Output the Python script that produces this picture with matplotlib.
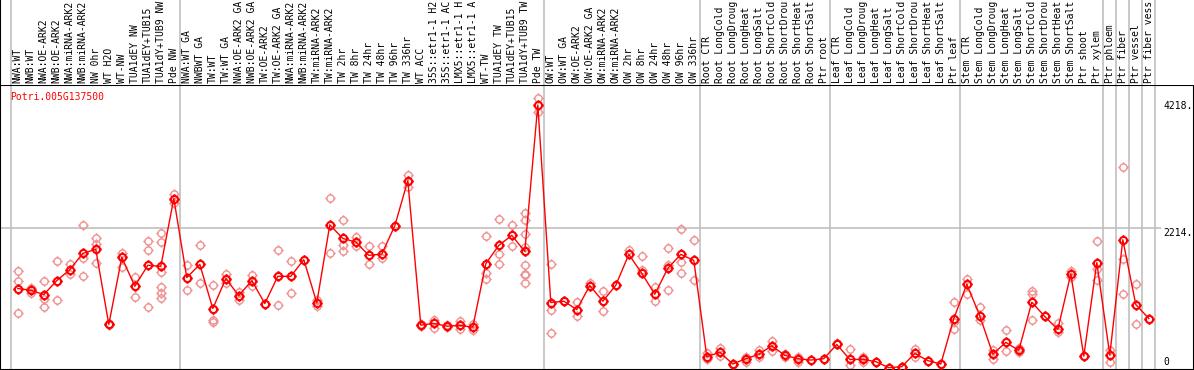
import matplotlib
matplotlib.use('Agg')
import matplotlib.pyplot as plt
from matplotlib.path import Path

gene = "Potri.005G137500"

# labels as they show in the original (long ones are cut at 14 characters)
samples = [
    "NWA:WT", "NWB:WT", "NWA:OE-ARK2", "NWB:OE-ARK2", "NWA:miRNA-ARK2", "NWB:miRNA-ARK2",
    "NW 0hr", "WT H2O", "WT-NW", "TUA1dEY NW", "TUA1dEY+TUB15", "TUA1dY+TUB9 NW", "Pde NW",
    "NWA:WT GA", "NWBWT GA", "TW:WT", "TW:WT GA", "NWA:OE-ARK2 GA", "NWB:OE-ARK2 GA",
    "TW:OE-ARK2", "TW:OE-ARK2 GA", "NWA:miRNA-ARK2", "NWB:miRNA-ARK2", "TW:miRNA-ARK2",
    "TW:miRNA-ARK2", "TW 2hr", "TW 8hr", "TW 24hr", "TW 48hr", "TW 96hr", "TW 336hr",
    "WT ACC", "35S::etr1-1 H2", "35S::etr1-1 AC", "LMX5::etr1-1 H", "LMX5::etr1-1 A",
    "WT-TW", "TUA1dEY TW", "TUA1dEY+TUB15", "TUA1dY+TUB9 TW", "Pde TW",
    "OW:WT", "OW:WT GA", "OW:OE-ARK2", "OW:OE-ARK2 GA", "OW:miRNA-ARK2", "OW:miRNA-ARK2",
    "OW 2hr", "OW 8hr", "OW 24hr", "OW 48hr", "OW 96hr", "OW 336hr",
    "Root CTR", "Root LongCold", "Root LongDroug", "Root LongHeat", "Root LongSalt",
    "Root ShortCold", "Root ShortDrou", "Root ShortHeat", "Root ShortSalt", "Ptr root",
    "Leaf CTR", "Leaf LongCold", "Leaf LongDroug", "Leaf LongHeat", "Leaf LongSalt",
    "Leaf ShortCold", "Leaf ShortDrou", "Leaf ShortHeat", "Leaf ShortSalt", "Ptr leaf",
    "Stem CTR", "Stem LongCold", "Stem LongDroug", "Stem LongHeat", "Stem LongSalt",
    "Stem ShortCold", "Stem ShortDrou", "Stem ShortHeat", "Stem ShortSalt", "Ptr shoot",
    "Ptr xylem", "Ptr phloem", "Ptr fiber", "Ptr vessel", "Ptr fiber vess",
]

means = [
    1257, 1230, 1162, 1383, 1556, 1814, 1877, 689, 1751, 1293,
    1625, 1609, 2681, 1430, 1640, 941, 1414, 1146, 1383, 1020,
    1451, 1451, 1714, 1030, 2266, 2050, 1993, 1782, 1803, 2251,
    2965, 678, 705, 662, 673, 647, 1651, 1940, 2098, 1845,
    4161, 1036, 1057, 925, 1305, 1057, 1309, 1798, 1498, 1167,
    1577, 1798, 1703, 179, 247, 63, 147, 216, 352, 200,
    147, 126, 147, 373, 136, 136, 100, 5, 21, 231,
    116, 63, 783, 1325, 825, 221, 405, 279, 1041, 815,
    610, 1488, 189, 1667, 205, 2030, 1004, 783,
]

replicates = [
    [1530, 1372, 878], [1267, 1194], [1383, 1099, 973], [1699, 1083], [1646, 1488],
    [2266, 1740, 1451], [2050, 1966, 1667], [700, 680], [1819, 1598], [1446, 1130],
    [2003, 1872, 973], [2129, 1987, 1519, 1288, 1194, 1115], [2749, 2613], [1625, 1241],
    [1951, 1341], [1320, 757, 730], [1488, 1346], [1199, 1083], [1467, 1293], [1020],
    [1872, 1004], [1699, 1194], [1714], [1083, 978], [2697, 1825],
    [2334, 1945, 1856], [2071, 1929], [1924, 1651], [1924, 1740], [2251],
    [3060, 2860], [690, 665], [757, 631], [680, 650], [747, 615],
    [690, 604], [2082, 1498, 1414], [2361, 1809, 1651], [2256, 1929],
    [2445, 2334, 2124, 1913, 1625, 1493, 1472, 1346],
    [4267, 4046], [1640, 915, 552], [1057], [1041, 825], [1346],
    [1225, 899], [1309], [1872], [1777, 1546], [1283, 1068],
    [1893, 1635, 1230], [2192, 1683, 1498], [2019, 1399], [231, 150], [310, 189],
    [70, 40], [100, 180], [284, 180], [431, 273], [220, 180],
    [100, 170], [126], [147], [400, 373], [300, 47],
    [179, 100], [100], [5], [21], [294, 179],
    [116], [63], [1041, 731, 610], [1404, 1178], [962, 757],
    [284, 137], [599, 268], [310, 250], [1215, 1172, 757], [815],
    [705, 563], [1530, 1440], [189], [2003, 1572, 1388], [284, 100],
    [3181, 1730, 1178], [1336, 689], [783],
]

group_breaks = [-0.5, 12.5, 40.5, 52.5, 62.5, 72.5, 83.5, 84.5, 85.5, 86.5, 87.5]

# circle with four little ticks, like the original marker
tick = 1.45
marker = Path.make_compound_path(
    Path.unit_circle(),
    Path([(0, 1), (0, tick)]), Path([(0, -1), (0, -tick)]),
    Path([(1, 0), (tick, 0)]), Path([(-1, 0), (-tick, 0)]),
)

W, H = 1194, 370
fig = plt.figure(figsize=(W / 100, H / 100), dpi=100)
top_px = 85
ax = fig.add_axes([0, 0, 1, (H - top_px) / H])
lab = fig.add_axes([0, (H - top_px) / H, 1, top_px / H], sharex=ax)

x0, step = 17.8, 13.0
ax.set_xlim(-x0 / step, (W - x0) / step)
k = 0.0632
ax.set_ylim((368 - H) / k, (368 - top_px) / k)
lab.set_ylim(0, top_px)

for a in (ax, lab):
    a.set_xticks([])
    a.set_yticks([])
    for s in a.spines.values():
        s.set_color('black')
        s.set_linewidth(1.5)
    for b in group_breaks:
        a.axvline(b, color='#c0c0c0', lw=1.2, zorder=0)
lab.spines['top'].set_visible(False)
lab.spines['right'].set_visible(False)
lab.spines['bottom'].set_visible(False)

ax.hlines(2214, ax.get_xlim()[0], 87.9, color='#c0c0c0', lw=1.2, zorder=0)

xs = list(range(len(means)))
for i, r in enumerate(replicates):
    ax.plot([i] * len(r), r, linestyle='none', marker=marker, markersize=7.5,
            markerfacecolor='none', markeredgecolor='#f09090', markeredgewidth=1.0, zorder=2)
ax.plot(xs, means, color='red', lw=1.0, zorder=3)
ax.plot(xs, means, linestyle='none', marker=marker, markersize=7.5,
        markerfacecolor='none', markeredgecolor='red', markeredgewidth=1.5, zorder=4)

mono = 'DejaVu Sans Mono'
for i, name in enumerate(samples):
    lab.text(i, 2, name, rotation=90, ha='center', va='bottom', fontsize=7,
             family=mono, color='black')

tx = (1163 - x0) / step
ax.annotate('4218.', (tx, 4218), xytext=(0, -5), textcoords='offset pixels',
            va='center', ha='left', fontsize=7, family=mono)
ax.annotate('2214.', (tx, 2214), xytext=(0, -5), textcoords='offset pixels',
            va='center', ha='left', fontsize=7, family=mono)
ax.annotate('0', (tx, 0), xytext=(0, 6), textcoords='offset pixels',
            va='center', ha='left', fontsize=7, family=mono)

ax.text(10 / W, 1 - 11.7 / (H - top_px), gene, transform=ax.transAxes, color='red',
        fontsize=7, family=mono, va='center', ha='left')

fig.savefig('out.png', dpi=100)
